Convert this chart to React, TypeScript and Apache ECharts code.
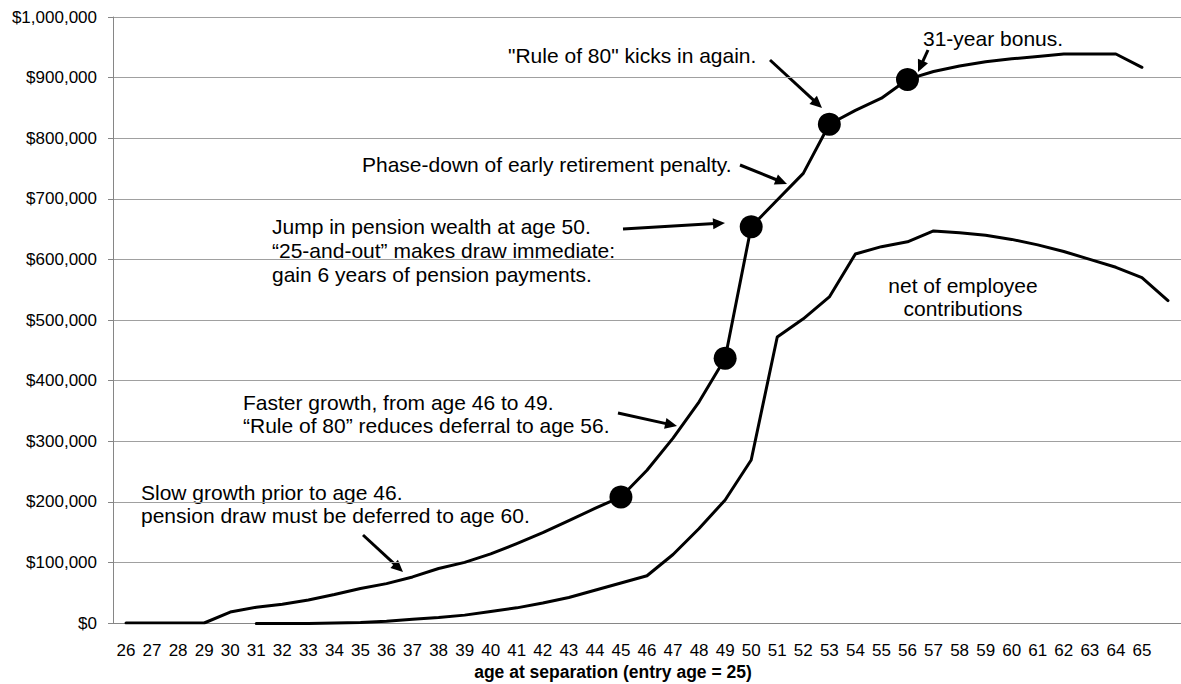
import React, { useEffect, useRef } from "react";
import * as echarts from "echarts";

const ages = [26, 27, 28, 29, 30, 31, 32, 33, 34, 35, 36, 37, 38, 39, 40, 41, 42, 43, 44, 45, 46, 47, 48, 49, 50, 51, 52, 53, 54, 55, 56, 57, 58, 59, 60, 61, 62, 63, 64, 65, 66];
const xTickLabels = ["26", "27", "28", "29", "30", "31", "32", "33", "34", "35", "36", "37", "38", "39", "40", "41", "42", "43", "44", "45", "46", "47", "48", "49", "50", "51", "52", "53", "54", "55", "56", "57", "58", "59", "60", "61", "62", "63", "64", "65", ""];

const pensionWealth = [0, 0, 0, 0, 18000, 26000, 31000, 38000, 47000, 57000, 65000, 76000, 90000, 100000, 114000, 131000, 149000, 169000, 189000, 208000, 252000, 305000, 365000, 437000, 654000, 698000, 742000, 823000, 846000, 866000, 897000, 910000, 919000, 926000, 931000, 935000, 939000, 939000, 939000, 917000, null];
const netOfContributions = [null, null, null, null, null, -1000, -1000, -1000, 0, 1000, 3000, 6000, 9000, 13000, 19000, 25000, 33000, 42000, 54000, 66000, 78000, 113000, 156000, 203000, 269000, 472000, 502000, 538000, 609000, 621000, 629000, 647000, 644000, 640000, 633000, 624000, 613000, 600000, 587000, 570000, 532000];
const markerAges = [45, 49, 50, 53, 56];

const yTickValues = [0, 100000, 200000, 300000, 400000, 500000, 600000, 700000, 800000, 900000, 1000000];

const FONT = '"Liberation Sans", Arial, Helvetica, sans-serif';

function arrow(x1: number, y1: number, x2: number, y2: number) {
  const dx = x2 - x1;
  const dy = y2 - y1;
  const len = Math.sqrt(dx * dx + dy * dy);
  const ux = dx / len;
  const uy = dy / len;
  const headLen = 12;
  const headHalf = 5.5;
  const bx = x2 - ux * headLen;
  const by = y2 - uy * headLen;
  const px = -uy;
  const py = ux;
  return [
    {
      type: "line",
      shape: { x1, y1, x2: bx + ux * 2, y2: by + uy * 2 },
      style: { stroke: "#000", lineWidth: 3 },
      silent: true,
    },
    {
      type: "polygon",
      shape: {
        points: [
          [x2, y2],
          [bx + px * headHalf, by + py * headHalf],
          [bx - px * headHalf, by - py * headHalf],
        ],
      },
      style: { fill: "#000" },
      silent: true,
    },
  ];
}

function label(text: string, x: number, y: number, align: string = "left") {
  return {
    type: "text",
    x,
    y,
    style: {
      text,
      font: `21px ${FONT}`,
      fill: "#000",
      textAlign: align,
      textVerticalAlign: "middle",
    },
    silent: true,
  };
}

export default function App() {
  const ref = useRef<HTMLDivElement>(null);

  useEffect(() => {
    if (!ref.current) return;
    const chart = echarts.init(ref.current, undefined, { renderer: "svg" });

    const markerData = markerAges.map((a) => {
      const i = ages.indexOf(a);
      return [String(a), pensionWealth[i]];
    });

    const option: any = {
      animation: false,
      backgroundColor: "#fff",
      textStyle: { fontFamily: FONT },
      grid: { left: 113, top: 17, width: 1075, height: 606, containLabel: false },
      xAxis: {
        type: "category",
        data: ages.map(String),
        boundaryGap: true,
        axisLine: { lineStyle: { color: "#868686", width: 1 } },
        axisTick: { interval: 0, length: 5, lineStyle: { color: "#868686" } },
        axisLabel: {
          interval: 0,
          margin: 19,
          fontSize: 17,
          color: "#000",
          fontFamily: FONT,
          formatter: (_v: string, idx: number) => xTickLabels[idx],
        },
        splitLine: { show: false },
      },
      yAxis: {
        type: "value",
        min: yTickValues[0],
        max: yTickValues[yTickValues.length - 1],
        interval: 100000,
        axisLine: { show: true, lineStyle: { color: "#868686", width: 1 } },
        axisTick: { show: true, length: 5, lineStyle: { color: "#868686" } },
        axisLabel: {
          margin: 16,
          fontSize: 17,
          color: "#000",
          fontFamily: FONT,
          formatter: (v: number) => "$" + v.toLocaleString("en-US"),
        },
        splitLine: { show: true, lineStyle: { color: "#a0a0a0", width: 1 } },
      },
      series: [
        {
          name: "pension wealth",
          type: "line",
          data: pensionWealth,
          showSymbol: false,
          symbol: "none",
          connectNulls: false,
          lineStyle: { color: "#000", width: 3, join: "round", cap: "round" },
          z: 3,
        },
        {
          name: "net of employee contributions",
          type: "line",
          data: netOfContributions,
          showSymbol: false,
          symbol: "none",
          clip: false,
          lineStyle: { color: "#000", width: 3, join: "round", cap: "round" },
          z: 3,
        },
        {
          name: "markers",
          type: "scatter",
          data: markerData,
          symbol: "circle",
          symbolSize: 23,
          itemStyle: { color: "#000", opacity: 1 },
          emphasis: { disabled: true },
          z: 4,
        },
      ],
      graphic: {
        elements: [
          label("Slow growth prior to age 46.", 141, 492),
          label("pension draw must be deferred to age 60.", 141, 515),
          label("Faster growth, from age 46 to 49.", 243, 402),
          label("\u201CRule of 80\u201D reduces deferral to age 56.", 243, 425),
          label("Jump in pension wealth at age 50.", 272, 226),
          label("\u201C25-and-out\u201D makes draw immediate:", 272, 250),
          label("gain 6 years of pension payments.", 272, 274),
          label("Phase-down of early retirement penalty.", 362, 164),
          label('"Rule of 80" kicks in again.', 508, 55),
          label("31-year bonus.", 923, 38),
          label("net of employee", 963, 285, "center"),
          label("contributions", 963, 308, "center"),
          ...arrow(363, 535, 403, 572),
          ...arrow(618, 413, 677, 426),
          ...arrow(623, 229, 725, 223),
          ...arrow(740, 165, 787, 184),
          ...arrow(770, 60, 822, 108),
          ...arrow(928, 50, 918, 72),
          {
            type: "text",
            x: 613,
            y: 672,
            style: {
              text: "age at separation (entry age = 25)",
              font: `bold 17.5px ${FONT}`,
              fill: "#000",
              textAlign: "center",
              textVerticalAlign: "middle",
            },
            silent: true,
          },
        ],
      },
    };

    chart.setOption(option);
    return () => chart.dispose();
  }, []);

  return (
    <div
      ref={ref}
      style={{ position: "absolute", left: 0, top: 0, width: 1181, height: 684, overflow: "hidden", background: "#fff" }}
    />
  );
}
